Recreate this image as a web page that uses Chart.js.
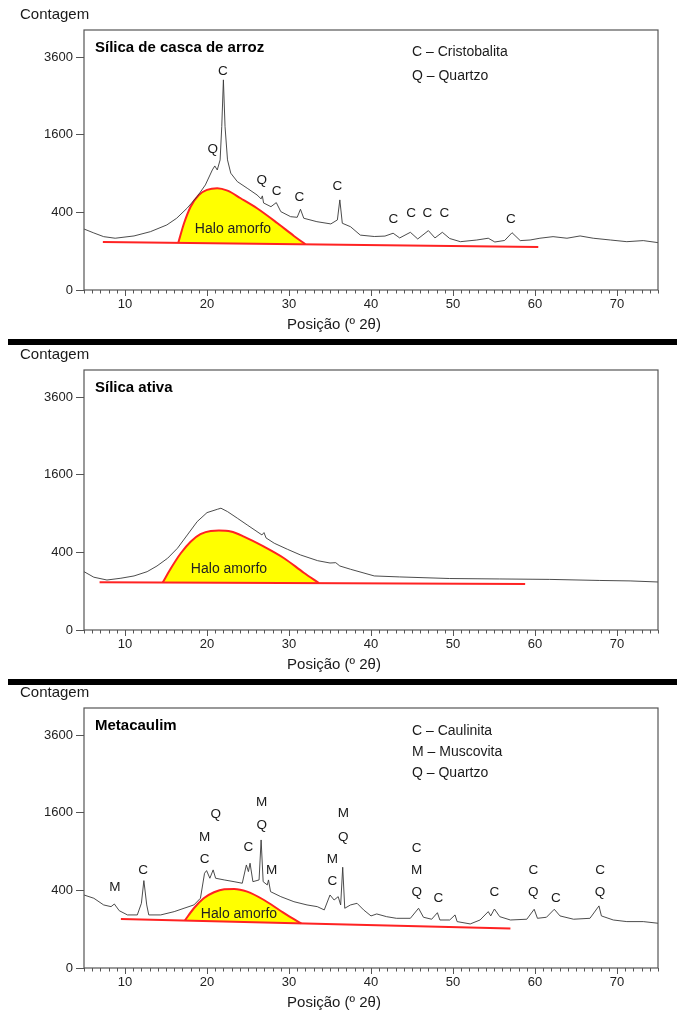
<!DOCTYPE html>
<html><head><meta charset="utf-8">
<script src="https://cdn.jsdelivr.net/npm/chart.js@4.4.1/dist/chart.umd.min.js"></script>
<style>
html,body{margin:0;padding:0;background:#fff;}
body{width:677px;height:1018px;position:relative;overflow:hidden;}
canvas{position:absolute;left:0;}
.band{position:absolute;left:8px;width:669px;height:6px;background:#000;z-index:5;}
</style></head><body>
<canvas id="c1" width="677" height="340" style="top:0px"></canvas>
<canvas id="c2" width="677" height="340" style="top:340px"></canvas>
<canvas id="c3" width="677" height="340" style="top:678px"></canvas>
<div class="band" style="top:339px"></div>
<div class="band" style="top:679px"></div>
<script>
// ---------- axis ticks ----------
const xTickValues = [10, 20, 30, 40, 50, 60, 70];
const yTickValues = [0, 400, 1600, 3600];

// ---------- Panel 1: Sílica de casca de arroz ----------
const p1Angle = [5.0, 6.2, 7.4, 8.8, 11.1, 13.1, 15.1, 16.3, 17.6, 18.8, 19.8, 20.65, 20.95, 21.25, 21.6, 21.8, 22.0, 22.2, 22.5, 22.9, 23.7, 24.9, 26.1, 26.6, 26.75, 26.9, 27.8, 28.45, 29.0, 30.2, 31.0, 31.4, 31.8, 33.4, 35.1, 35.9, 36.2, 36.5, 37.5, 38.7, 40.4, 41.7, 42.7, 43.5, 44.8, 45.7, 47.0, 47.8, 48.7, 49.6, 50.9, 52.9, 54.3, 55.1, 56.3, 57.2, 58.2, 59.4, 60.6, 62.2, 63.9, 65.5, 67.1, 69.2, 71.2, 73.2, 75.0];
const p1Count = [247, 216, 189, 178, 194, 226, 281, 342, 447, 579, 733, 957, 1022, 957, 1124, 1773, 2932, 1773, 1124, 906, 780, 688, 600, 551, 588, 503, 461, 507, 408, 357, 351, 433, 342, 310, 290, 326, 539, 296, 266, 200, 190, 193, 214, 180, 221, 173, 234, 180, 221, 176, 155, 166, 178, 153, 163, 218, 162, 166, 178, 189, 178, 194, 178, 166, 155, 162, 149];
const p1BaseAngle = [7.3, 60.4];
const p1BaseCount = [153, 123];
const p1HaloAngle = [16.5, 17.2, 18.0, 19.0, 20.0, 21.25, 22.5, 24.1, 26.1, 28.6, 30.6, 32.0];
const p1HaloCount = [148, 296, 461, 600, 665, 688, 655, 559, 444, 296, 194, 139];
const p1PeakAngle = [21.95, 20.7, 26.67, 28.5, 31.26, 35.9, 42.72, 44.88, 46.87, 48.94, 57.07];
const p1PeakCount = [3170, 1322, 805, 648, 572, 719, 335, 391, 391, 391, 335];
const p1PeakText = ['C', 'Q', 'Q', 'C', 'C', 'C', 'C', 'C', 'C', 'C', 'C'];
const p1Title = 'Sílica de casca de arroz';
const p1Legend = ['C – Cristobalita', 'Q – Quartzo'];

// ---------- Panel 2: Sílica ativa ----------
const p2Angle = [5.0, 6.2, 7.8, 9.5, 11.1, 12.7, 13.9, 15.2, 16.4, 17.6, 18.8, 20.0, 21.3, 21.7, 22.5, 23.7, 24.9, 26.1, 26.7, 26.95, 27.2, 28.2, 29.8, 31.4, 33.5, 35.0, 35.7, 36.2, 37.5, 40.4, 43.5, 49.6, 55.7, 61.8, 67.9, 71.6, 75.0];
const p2Count = [226, 185, 166, 178, 194, 226, 272, 342, 444, 600, 780, 915, 969, 985, 931, 830, 733, 643, 600, 630, 563, 500, 433, 374, 319, 298, 301, 272, 245, 194, 187, 176, 173, 170, 163, 160, 153];
const p2BaseAngle = [6.9, 58.8];
const p2BaseCount = [151, 141];
const p2HaloAngle = [14.6, 15.6, 16.8, 18.0, 19.2, 20.45, 21.45, 22.9, 24.5, 26.95, 29.4, 31.8, 33.65];
const p2HaloCount = [150, 253, 391, 518, 609, 652, 656, 643, 579, 461, 342, 218, 146];
const p2PeakAngle = [];
const p2PeakCount = [];
const p2PeakText = [];
const p2Title = 'Sílica ativa';
const p2Legend = [];

// ---------- Panel 3: Metacaulim ----------
const p3Angle = [5.0, 6.2, 7.4, 8.3, 8.7, 9.3, 10.3, 11.5, 12.0, 12.3, 12.65, 12.9, 14.35, 16.0, 17.2, 18.4, 19.2, 19.7, 19.95, 20.35, 20.75, 21.05, 22.1, 23.3, 24.3, 24.8, 25.05, 25.25, 25.6, 26.35, 26.6, 26.85, 27.35, 27.5, 27.75, 29.0, 30.6, 32.2, 33.45, 34.3, 35.0, 35.5, 36.0, 36.3, 36.55, 36.8, 37.5, 38.3, 39.1, 40.0, 40.7, 41.9, 43.1, 44.8, 45.8, 46.4, 47.4, 48.1, 48.4, 49.6, 50.25, 50.5, 52.1, 53.3, 54.3, 54.6, 55.05, 55.7, 57.0, 59.0, 59.9, 60.3, 61.4, 62.35, 63.05, 64.7, 66.7, 67.8, 68.1, 69.55, 71.2, 73.2, 75.0];
const p3Count = [354, 323, 264, 250, 272, 218, 187, 187, 278, 507, 264, 187, 187, 211, 237, 264, 323, 596, 630, 535, 639, 535, 515, 495, 477, 705, 617, 729, 495, 515, 1089, 495, 458, 515, 387, 338, 292, 264, 250, 224, 354, 307, 338, 264, 674, 237, 264, 278, 224, 180, 194, 175, 164, 164, 237, 171, 158, 203, 153, 153, 187, 143, 129, 153, 211, 180, 231, 175, 153, 158, 229, 164, 171, 229, 180, 158, 164, 256, 180, 153, 143, 143, 133];
const p3BaseAngle = [9.5, 57.0];
const p3BaseCount = [160, 103];
const p3HaloAngle = [17.3, 18.4, 19.6, 20.85, 22.1, 23.3, 24.9, 26.95, 29.0, 30.6, 31.5];
const p3HaloCount = [150, 237, 323, 381, 412, 415, 387, 307, 216, 158, 132];
const p3PeakAngle = [8.78, 12.2, 19.72, 19.72, 21.06, 25.04, 26.67, 26.67, 27.89, 35.28, 35.28, 36.62, 36.62, 45.57, 45.57, 45.57, 48.21, 55.04, 59.8, 59.8, 62.56, 67.93, 67.93];
const p3PeakCount = [433, 639, 1136, 790, 1571, 962, 1817, 1347, 639, 790, 495, 1592, 1136, 953, 630, 377, 323, 377, 639, 377, 323, 639, 377];
const p3PeakText = ['M', 'C', 'M', 'C', 'Q', 'C', 'M', 'Q', 'M', 'M', 'C', 'M', 'Q', 'C', 'M', 'Q', 'C', 'C', 'C', 'Q', 'C', 'C', 'Q'];
const p3Title = 'Metacaulim';
const p3Legend = ['C – Caulinita', 'M – Muscovita', 'Q – Quartzo'];

const yAxisLabel = 'Contagem';
const xAxisLabel = 'Posição (º 2θ)';
const haloLabel = 'Halo amorfo';

// ---------- styling ----------
const FONT = "'Liberation Sans', Arial, sans-serif";
const AXIS = '#555555';
const TRACE = '#383838';
const RED = '#ff2222';
const YELLOW = '#ffff00';

// square-root count scale
const LinearBase = Chart.LinearScale || Chart.registry.getScale('linear');
class SqrtScale extends LinearBase {
  getPixelForValue(value) {
    const a = Math.sqrt(Math.max(this.min, 0)), b = Math.sqrt(this.max);
    return this.getPixelForDecimal((Math.sqrt(Math.max(value, 0)) - a) / (b - a));
  }
  getValueForPixel(pixel) {
    const a = Math.sqrt(Math.max(this.min, 0)), b = Math.sqrt(this.max);
    const s = a + this.getDecimalForPixel(pixel) * (b - a);
    return s * s;
  }
}
SqrtScale.id = 'sqrt';
Chart.register(SqrtScale);

function zip(xs, ys) { return xs.map((x, i) => ({ x: x, y: ys[i] })); }

function text(ctx, s, x, y, size, weight, align, color) {
  ctx.font = (weight || 'normal') + ' ' + size + 'px ' + FONT;
  ctx.textAlign = align || 'left';
  ctx.textBaseline = 'middle';
  ctx.fillStyle = color || '#1a1a1a';
  ctx.fillText(s, x, y);
}

function decoPlugin(p) {
  return {
    id: 'deco',
    afterDatasetsDraw(chart) {
      const { ctx, chartArea: a, scales: { x, y } } = chart;
      ctx.save();
      ctx.strokeStyle = AXIS;
      ctx.lineWidth = 1.2;
      ctx.strokeRect(a.left, a.top, a.right - a.left, a.bottom - a.top);
      ctx.beginPath();
      for (let v = 5; v <= 75; v++) {
        if (v % 10 === 0) continue;
        const px = Math.round(x.getPixelForValue(v)) + 0.5;
        ctx.moveTo(px, a.bottom);
        ctx.lineTo(px, a.bottom + 3.5);
      }
      ctx.lineWidth = 1;
      ctx.stroke();
      // texts
      text(ctx, yAxisLabel, 20, 15, 15, 'normal', 'left', '#1a1a1a');
      text(ctx, xAxisLabel, 334, 325, 15, 'normal', 'center', '#1a1a1a');
      text(ctx, p.title, 95, 48, 15, 'bold', 'left', '#000');
      p.legend.forEach((s, i) => text(ctx, s, 412, p.legendY[i], 14, 'normal', 'left', '#1a1a1a'));
      text(ctx, haloLabel, p.haloPos[0], p.haloPos[1], 14, 'normal', 'center', '#222');
      p.peakText.forEach((s, i) => {
        text(ctx, s, x.getPixelForValue(p.peakAngle[i]), y.getPixelForValue(p.peakCount[i]), 13.5, 'normal', 'center', '#1a1a1a');
      });
      ctx.restore();
    }
  };
}

function makeChart(id, p) {
  return new Chart(document.getElementById(id), {
    type: 'line',
    data: {
      datasets: [
        { data: zip(p.angle, p.count), borderColor: TRACE, borderWidth: 0.9, pointRadius: 0, fill: false },
        { data: zip(p.baseAngle, p.baseCount), borderColor: RED, borderWidth: 2, pointRadius: 0, fill: false },
        { data: zip(p.haloAngle, p.haloCount), borderColor: RED, borderWidth: 2, pointRadius: 0,
          backgroundColor: YELLOW, fill: 1, cubicInterpolationMode: 'monotone' }
      ]
    },
    options: {
      responsive: false, animation: false, events: [],
      layout: { padding: { top: 30, right: 19, left: 0, bottom: 0 } },
      plugins: { legend: { display: false }, tooltip: { enabled: false }, title: { display: false } },
      scales: {
        x: {
          type: 'linear', min: 5, max: 75,
          afterBuildTicks: s => { s.ticks = xTickValues.map(v => ({ value: v })); },
          afterFit: s => { s.height = 50; },
          grid: { drawOnChartArea: false, drawTicks: true, tickLength: 6, tickColor: AXIS, tickWidth: 1 },
          border: { display: false },
          ticks: { padding: 1, autoSkip: false, maxRotation: 0, color: '#222', font: { family: FONT, size: 13 }, callback: v => String(v) }
        },
        y: {
          type: 'sqrt', min: 0, max: 4489,
          afterBuildTicks: s => { s.ticks = yTickValues.map(v => ({ value: v })); },
          afterFit: s => { s.width = 84; },
          grid: { drawOnChartArea: false, drawTicks: true, tickLength: 8, tickColor: AXIS, tickWidth: 1 },
          border: { display: false },
          ticks: { padding: 3, autoSkip: false, color: '#222', font: { family: FONT, size: 13 }, callback: v => String(v) }
        }
      }
    },
    plugins: [decoPlugin(p)]
  });
}

makeChart('c1', {
  angle: p1Angle, count: p1Count, baseAngle: p1BaseAngle, baseCount: p1BaseCount,
  haloAngle: p1HaloAngle, haloCount: p1HaloCount,
  peakAngle: p1PeakAngle, peakCount: p1PeakCount, peakText: p1PeakText,
  title: p1Title, legend: p1Legend, legendY: [52, 76], haloPos: [233, 229]
});
makeChart('c2', {
  angle: p2Angle, count: p2Count, baseAngle: p2BaseAngle, baseCount: p2BaseCount,
  haloAngle: p2HaloAngle, haloCount: p2HaloCount,
  peakAngle: p2PeakAngle, peakCount: p2PeakCount, peakText: p2PeakText,
  title: p2Title, legend: p2Legend, legendY: [], haloPos: [229, 229]
});
makeChart('c3', {
  angle: p3Angle, count: p3Count, baseAngle: p3BaseAngle, baseCount: p3BaseCount,
  haloAngle: p3HaloAngle, haloCount: p3HaloCount,
  peakAngle: p3PeakAngle, peakCount: p3PeakCount, peakText: p3PeakText,
  title: p3Title, legend: p3Legend, legendY: [53, 74, 95], haloPos: [239, 236]
});
</script>
</body></html>
